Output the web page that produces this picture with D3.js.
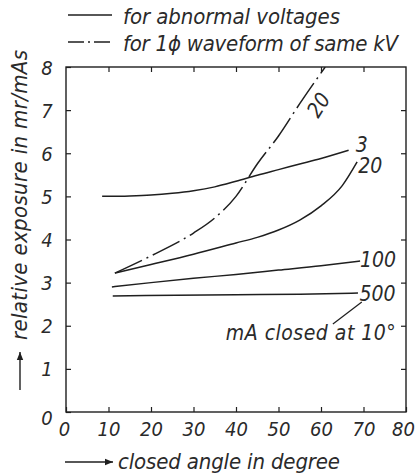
<!DOCTYPE html>
<html>
<head>
<meta charset="utf-8">
<script src="https://cdn.jsdelivr.net/npm/d3@7"></script>
<style>
	body { margin: 0; background: #fff; }
	text { font-family: "DejaVu Sans Condensed", "DejaVu Sans", sans-serif; font-stretch: condensed; font-style: italic; fill: #2a2a2a; }
</style>
</head>
<body>
<svg id="chart"></svg>
<script>
//
// Relative exposure vs closed angle, redrawn from a scanned figure
//
const xTicks = [0, 10, 20, 30, 40, 50, 60, 70, 80];
const yTicks = [0, 1, 2, 3, 4, 5, 6, 7, 8];

// solid curves, "mA closed at 10°"
const angle3 = [8.5, 15, 20, 25, 30, 35, 40, 45, 50, 55, 60, 66.5];
const exp3 = [5.0, 5.01, 5.03, 5.07, 5.13, 5.22, 5.35, 5.49, 5.62, 5.75, 5.88, 6.07];

const angle20 = [11.5, 20, 30, 40, 45, 50, 55, 60, 65, 68.5];
const exp20 = [3.22, 3.42, 3.66, 3.92, 4.05, 4.22, 4.45, 4.78, 5.25, 5.8];

const angle100 = [10.8, 20, 30, 40, 50, 60, 69.2];
const exp100 = [2.9, 3.0, 3.1, 3.19, 3.29, 3.39, 3.5];

const angle500 = [11, 40, 55, 68.7];
const exp500 = [2.69, 2.72, 2.73, 2.76];

// dash-dot curve, single phase waveform
const angle1ph = [11.5, 20, 30, 35, 40, 45, 50, 55, 61];
const exp1ph = [3.22, 3.62, 4.15, 4.5, 5.0, 5.75, 6.4, 7.15, 8.0];

const legendLabels = ["for abnormal voltages", "for 1ϕ waveform of same kV"];
const xTitle = "closed angle in degree";
const yTitle = "relative exposure in mr/mAs";

const W = 415, H = 476;
const plot = { left: 66, top: 67, right: 406, bottom: 412 };
const ink = "#1f1f1f";

const svg = d3.select("#chart").attr("width", W).attr("height", H);

const x = d3.scaleLinear().domain([0, 80]).range([plot.left, plot.right]);
const y = d3.scaleLinear().domain([0, 8]).range([plot.bottom, plot.top]);

svg.append("defs").append("clipPath").attr("id", "clip")
	.append("rect")
	.attr("x", plot.left).attr("y", plot.top)
	.attr("width", plot.right - plot.left).attr("height", plot.bottom - plot.top);

// frame
svg.append("rect")
	.attr("x", plot.left).attr("y", plot.top)
	.attr("width", plot.right - plot.left).attr("height", plot.bottom - plot.top)
	.style("fill", "none").style("stroke", ink).style("stroke-width", 1.4);

function styleAxis(g) {
	g.select(".domain").remove();
	g.selectAll(".tick line").style("stroke", ink).style("stroke-width", 1.2);
	g.selectAll("text").style("font-size", "20px").style("font-family", null).style("fill", "#2a2a2a");
}

svg.append("g")
	.attr("transform", `translate(0,${plot.bottom})`)
	.call(d3.axisBottom(x).tickValues(xTicks).tickSize(-5).tickPadding(22).tickFormat(d3.format("d")))
	.call(styleAxis)
	.call((g) => g.selectAll("text").attr("dy", "0").attr("y", 24)
		.attr("x", (d) => (d === 80 ? -3 : d === 0 ? -2 : 0)));

svg.append("g")
	.attr("transform", `translate(${plot.left},0)`)
	.call(d3.axisLeft(y).tickValues(yTicks).tickSize(-5).tickPadding(14).tickFormat(d3.format("d")))
	.call(styleAxis)
	.call((g) => g.selectAll("text").attr("text-anchor", "middle").attr("x", -19).attr("dy", (d) => (d === 0 ? "0.6em" : "0.35em")));

svg.append("g")
	.attr("transform", `translate(0,${plot.top})`)
	.call(d3.axisTop(x).tickValues(xTicks.slice(1, -1)).tickSize(-5).tickFormat(""))
	.call(styleAxis);

svg.append("g")
	.attr("transform", `translate(${plot.right},0)`)
	.call(d3.axisRight(y).tickValues(yTicks.slice(1, -1)).tickSize(-5).tickFormat(""))
	.call(styleAxis);

// curves
const line = d3.line()
	.x((d) => x(d[0]))
	.y((d) => y(d[1]))
	.curve(d3.curveMonotoneX);

const series = [
	{ xs: angle3, ys: exp3, dash: null },
	{ xs: angle20, ys: exp20, dash: null },
	{ xs: angle100, ys: exp100, dash: null },
	{ xs: angle500, ys: exp500, dash: null },
	{ xs: angle1ph, ys: exp1ph, dash: "30 5 2 5" },
];

const curves = svg.append("g").attr("clip-path", "url(#clip)");
curves.selectAll("path")
	.data(series)
	.enter()
	.append("path")
	.attr("d", (s) => line(s.xs.map((v, i) => [v, s.ys[i]])))
	.style("fill", "none")
	.style("stroke", ink)
	.style("stroke-width", 1.5)
	.style("stroke-dasharray", (s) => s.dash);

// curve labels (data coordinates)
const curveLabels = [
	{ text: "3", at: [69.6, 6.2], rot: 0 },
	{ text: "20", at: [71.6, 5.72], rot: 0 },
	{ text: "100", at: [73.4, 3.54], rot: 0 },
	{ text: "500", at: [73.3, 2.75], rot: 0 },
	{ text: "20", at: [59.4, 7.12], rot: -58 },
	{ text: "mA closed at 10°", at: [57.6, 1.83], rot: 0, len: 170 },
];

svg.append("g").selectAll("text")
	.data(curveLabels)
	.enter()
	.append("text")
	.attr("transform", (d) => `translate(${x(d.at[0])},${y(d.at[1])}) rotate(${d.rot})`)
	.attr("text-anchor", "middle")
	.attr("dy", "0.35em")
	.attr("textLength", (d) => d.len || null)
	.attr("lengthAdjust", "spacing")
	.style("font-size", "21px")
	.text((d) => d.text);

// leader from "500" to the note below
svg.append("line")
	.attr("x1", x(62.8)).attr("y1", y(2.04))
	.attr("x2", x(69.6)).attr("y2", y(2.55))
	.style("stroke", ink).style("stroke-width", 1.2);

// legend
const legend = svg.append("g");
legendLabels.forEach((label, i) => {
	const ly = 15 + i * 27;
	legend.append("line")
		.attr("x1", 68).attr("x2", 112)
		.attr("y1", ly).attr("y2", ly)
		.style("stroke", ink).style("stroke-width", 1.5)
		.style("stroke-dasharray", i === 1 ? "16 4 2 4" : null);
	legend.append("text")
		.attr("x", 123).attr("y", ly + 9)
		.attr("textLength", i === 0 ? 217 : 275)
		.attr("lengthAdjust", "spacing")
		.style("font-size", "22px")
		.text(label);
});

// axis titles with arrows
const arrow = svg.append("defs").append("marker")
	.attr("id", "arrowhead")
	.attr("viewBox", "0 -5 10 10")
	.attr("refX", 10).attr("refY", 0)
	.attr("markerWidth", 6).attr("markerHeight", 6)
	.attr("orient", "auto");
arrow.append("path").attr("d", "M0,-4L10,0L0,4Z").style("fill", ink);

svg.append("line")
	.attr("x1", 65).attr("y1", 462).attr("x2", 113).attr("y2", 462)
	.style("stroke", ink).style("stroke-width", 1.4)
	.attr("marker-end", "url(#arrowhead)");
svg.append("text")
	.attr("x", 118).attr("y", 469)
	.attr("textLength", 222)
	.attr("lengthAdjust", "spacing")
	.style("font-size", "22px")
	.text(xTitle);

svg.append("line")
	.attr("x1", 20).attr("y1", 390).attr("x2", 20).attr("y2", 352)
	.style("stroke", ink).style("stroke-width", 1.4)
	.attr("marker-end", "url(#arrowhead)");
svg.append("text")
	.attr("transform", "translate(27,340) rotate(-90)")
	.attr("textLength", 290)
	.attr("lengthAdjust", "spacing")
	.style("font-size", "22px")
	.text(yTitle);
</script>
</body>
</html>
